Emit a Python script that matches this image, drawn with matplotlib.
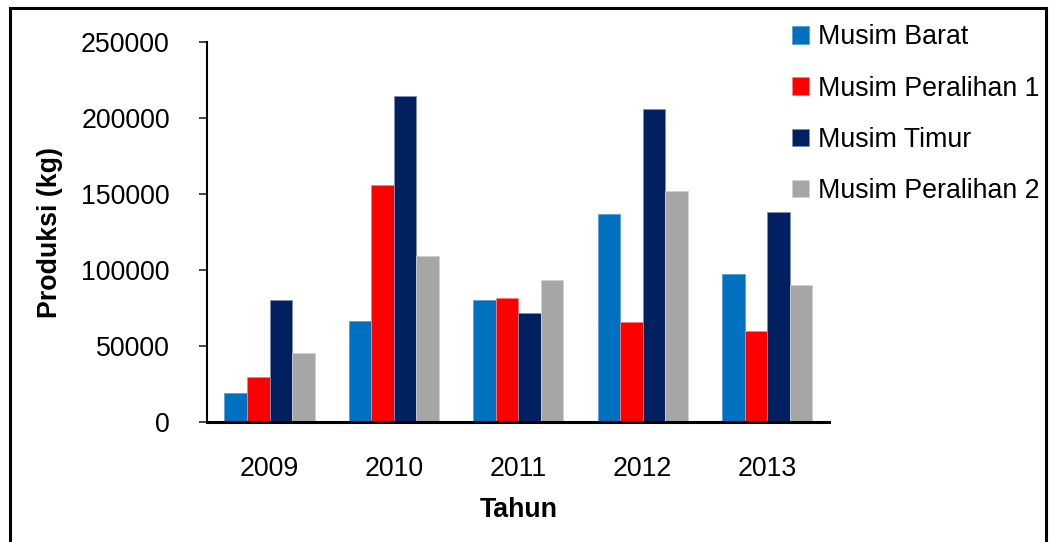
import matplotlib
matplotlib.use("Agg")
import matplotlib.pyplot as plt
import numpy as np
from matplotlib.lines import Line2D

plt.rcParams['font.family'] = ['Liberation Sans', 'DejaVu Sans']

years = ["2009", "2010", "2011", "2012", "2013"]
series_names = ["Musim Barat", "Musim Peralihan 1", "Musim Timur", "Musim Peralihan 2"]
musim_barat = [18700, 66500, 80200, 137000, 97000]
musim_peralihan_1 = [29300, 156000, 81700, 65400, 59500]
musim_timur = [80000, 214300, 71800, 206000, 138500]
musim_peralihan_2 = [45400, 109000, 93400, 152200, 90300]
y_ticks = [0, 50000, 100000, 150000, 200000, 250000]

series_values = [musim_barat, musim_peralihan_1, musim_timur, musim_peralihan_2]
colors = ["#0070C0", "#FF0000", "#002060", "#A6A6A6"]
edges = ["#5aa0d8", "#ff8080", "#8090b8", "#d0d0d0"]

W, H = 1049, 542
fig = plt.figure(figsize=(W / 100, H / 100), dpi=100)
ax = fig.add_axes([207.3 / W, 1 - 421.7 / H, 622 / W, 379.4 / H])

fs = 19.3
x = np.arange(len(years))
group = 0.726
bw = group / len(series_values)
for i, (vals, c, ec, name) in enumerate(zip(series_values, colors, edges, series_names)):
    offs = -group / 2 + bw * (i + 0.5)
    ax.bar(x + offs, vals, width=bw, color=c, edgecolor=ec, linewidth=0.6, label=name)

ax.set_xlim(-0.5, len(years) - 0.5)
ax.set_ylim(0, 250000)
ax.set_yticks(y_ticks)
ax.set_yticklabels([str(v) for v in y_ticks], fontsize=fs)
ax.set_xticks(x)
ax.set_xticklabels(years, fontsize=fs)
ax.tick_params(axis='x', length=0, pad=25)
ax.tick_params(axis='y', length=6, width=1.2, direction='out', pad=21, colors='#222222', labelcolor='black')

for s in ['top', 'right']:
    ax.spines[s].set_visible(False)
ax.spines['left'].set_linewidth(1.5)
ax.spines['bottom'].set_linewidth(2.2)
ax.spines['left'].set_color('black')
ax.spines['bottom'].set_color('black')

ax.set_ylabel("Produksi (kg)", fontsize=fs, fontweight='bold', va='center')
ax.yaxis.set_label_coords((50 - 207.3) / 622, 0.5)
ax.set_xlabel("Tahun", fontsize=fs, fontweight='bold', va='center')
ax.xaxis.set_label_coords(0.5, -(510 - 421.7) / 379.4)

fig.legend(loc='upper left', bbox_to_anchor=(792 / W, 1 - 24.5 / H),
           frameon=False, fontsize=fs, handlelength=0.634, handleheight=0.634,
           handletextpad=0.32, labelspacing=0.94, borderpad=0, borderaxespad=0)

# outer frame: left, top and right edges
lw = 2.2
fig.add_artist(Line2D([10 / W, 10 / W], [0, 1 - 7.5 / H], color='black', lw=lw, transform=fig.transFigure))
fig.add_artist(Line2D([10 / W, 1046 / W], [1 - 7.5 / H, 1 - 7.5 / H], color='black', lw=lw, transform=fig.transFigure))
fig.add_artist(Line2D([1046 / W, 1046 / W], [0, 1 - 7.5 / H], color='black', lw=lw, transform=fig.transFigure))

fig.savefig("out.png", dpi=100)
